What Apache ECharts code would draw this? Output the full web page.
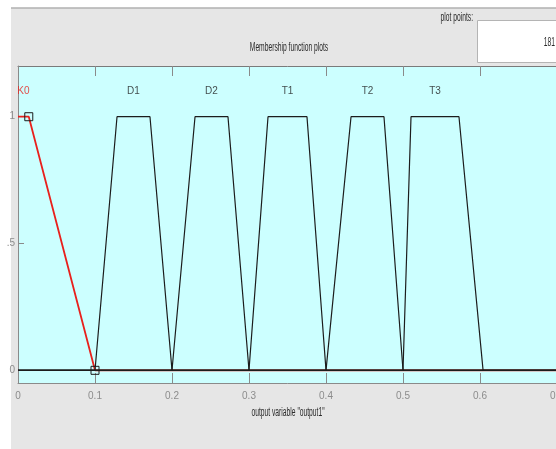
<!DOCTYPE html>
<html>
<head>
<meta charset="utf-8">
<script src="https://cdn.jsdelivr.net/npm/echarts@6/dist/echarts.min.js"></script>
<style>
html,body{margin:0;padding:0;background:#ffffff;}
#chart{width:556px;height:449px;}
</style>
</head>
<body>
<div id="chart"></div>
<script>
// Membership functions (trapezoids): feet a,d and shoulders b,c
const mfNames = ['K0', 'D1', 'D2', 'T1', 'T2', 'T3'];
const mfA = [null, 0.1, 0.2, 0.3, 0.4, 0.5];
const mfB = [0, 0.1286, 0.2299, 0.3247, 0.4325, 0.5104];
const mfC = [0.014, 0.1714, 0.2727, 0.3753, 0.4753, 0.5727];
const mfD = [0.1, 0.2, 0.3, 0.4, 0.5, 0.604];
const mfColors = ['#e8201c', '#1c1c1c', '#1c1c1c', '#1c1c1c', '#1c1c1c', '#1c1c1c'];
const selectedMf = 0;
const xMin = 0, xMax = 0.8, xStep = 0.1;
const yTicks = [0, 0.5, 1];
const yTickLabels = ['0', '.5', '1'];
const xTitle = 'output variable "output1"';
const plotTitle = 'Membership function plots';
const plotPointsLabel = 'plot points:';
const plotPointsValue = '181';

const FONT = "'Liberation Sans Narrow', 'Liberation Sans', sans-serif";
const NARROW = 0.56;

const chart = echarts.init(document.getElementById('chart'), null, {renderer: 'canvas'});

function mfData(i) {
  const pts = [];
  const a = mfA[i], b = mfB[i], c = mfC[i], d = mfD[i];
  const sel = i === selectedMf;
  if (a !== null) { pts.push([xMin, 0]); pts.push([a, 0]); }
  pts.push([b, 1]);
  pts.push(sel ? {value: [c, 1], symbol: 'rect', symbolSize: 8} : [c, 1]);
  pts.push(sel ? {value: [d, 0], symbol: 'rect', symbolSize: 8} : [d, 0]);
  pts.push([xMax, 0]);
  return pts;
}

const series = [];
mfNames.forEach((n, i) => {
  const sel = i === selectedMf;
  series.push({
    type: 'line',
    name: n,
    data: mfData(i),
    showSymbol: sel,
    symbol: 'none',
    z: sel ? 2 : 3,
    lineStyle: {color: mfColors[i], width: sel ? 1.8 : 1.2},
    itemStyle: {color: 'rgba(0,0,0,0)', borderColor: '#1c1c1c', borderWidth: 1},
    silent: true,
    animation: false
  });
});
// MF name labels above each peak
series.push({
  type: 'scatter',
  symbolSize: 0,
  silent: true,
  animation: false,
  data: mfNames.map((n, i) => ({
    value: [(mfB[i] + mfC[i]) / 2, 1.1],
    label: {
      show: true, formatter: n, position: 'inside',
      color: mfColors[i], fontFamily: FONT, fontSize: 10
    }
  }))
});

function txt(x, y, s, align) {
  return {
    type: 'text', x: x, y: y, scaleX: NARROW,
    style: {text: s, align: align, verticalAlign: 'middle', fill: '#2a2a2a', font: '12px ' + FONT}
  };
}

chart.setOption({
  backgroundColor: '#e6e6e6',
  animation: false,
  grid: {
    left: 18, top: 66, width: 616, height: 317,
    outerBoundsMode: 'none', containLabel: false,
    show: true, backgroundColor: '#ccffff', borderWidth: 0
  },
  xAxis: [
    {
      type: 'value', position: 'bottom', min: xMin, max: xMax, interval: xStep,
      axisLine: {show: true, onZero: false, lineStyle: {color: '#8a8a8a', width: 1}},
      axisTick: {show: true, inside: true, length: 10, lineStyle: {color: '#8a8a8a'}},
      axisLabel: {
        show: true, margin: 8, color: '#8c8c8c', fontFamily: FONT, fontSize: 10,
        formatter: v => (Math.round(v * 10) / 10).toString()
      },
      splitLine: {show: false}
    },
    {
      type: 'value', position: 'top', min: xMin, max: xMax, interval: xStep,
      axisLine: {show: true, onZero: false, lineStyle: {color: '#7a7a7a', width: 1}},
      axisTick: {show: true, inside: true, length: 10, lineStyle: {color: '#8a8a8a'}},
      axisLabel: {show: false},
      splitLine: {show: false}
    }
  ],
  yAxis: {
    type: 'value', min: -0.05, max: 1.2,
    axisLine: {show: true, onZero: false, lineStyle: {color: '#8a8a8a', width: 1}},
    axisTick: {show: true, inside: true, length: 6, customValues: yTicks, lineStyle: {color: '#8a8a8a'}},
    axisLabel: {
      show: true, margin: 3, color: '#8c8c8c', fontFamily: FONT, fontSize: 10,
      customValues: yTicks,
      formatter: v => yTickLabels[yTicks.indexOf(Math.round(v * 10) / 10)] || ''
    },
    splitLine: {show: false}
  },
  graphic: [
    {type: 'rect', shape: {x: 0, y: 0, width: 556, height: 8}, style: {fill: '#ffffff'}, z: -10},
    {type: 'rect', shape: {x: 0, y: 0, width: 11, height: 449}, style: {fill: '#ffffff'}, z: -10},
    {type: 'line', shape: {x1: 11, y1: 8, x2: 556, y2: 8}, style: {stroke: '#b0b0b0', lineWidth: 1.5}, z: -9},
    {type: 'rect', shape: {x: 477.5, y: 20.5, width: 90, height: 42}, style: {fill: '#ffffff', stroke: '#b4b4b4', lineWidth: 1}},
    txt(473, 18, plotPointsLabel, 'right'),
    txt(555, 43, plotPointsValue, 'right'),
    txt(289, 48, plotTitle, 'center'),
    txt(288, 413, xTitle, 'center')
  ],
  series: series
});
</script>
</body>
</html>
